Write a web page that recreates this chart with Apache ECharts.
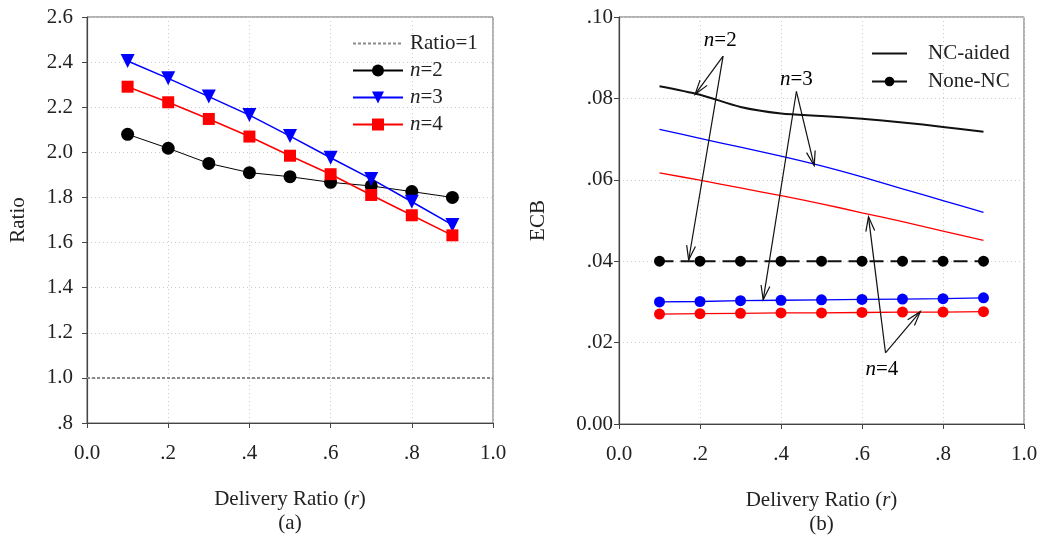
<!DOCTYPE html>
<html>
<head>
<meta charset="utf-8">
<script src="https://cdn.jsdelivr.net/npm/echarts@6/dist/echarts.min.js"></script>
<style>
  html, body { margin: 0; padding: 0; background: #fff; }
  #chart { width: 1044px; height: 536px; }
</style>
</head>
<body>
<div id="chart"></div>
<script>
const xValues = [0.1, 0.2, 0.3, 0.4, 0.5, 0.6, 0.7, 0.8, 0.9]

// (a) Ratio
const ratioOneX = [0, 1]
const ratioOneY = [1, 1]
const ratioN2 = [2.08, 2.018, 1.951, 1.91, 1.892, 1.867, 1.851, 1.826, 1.80]
const ratioN3 = [2.405, 2.328, 2.247, 2.165, 2.072, 1.976, 1.882, 1.781, 1.678]
const ratioN4 = [2.291, 2.222, 2.148, 2.07, 1.985, 1.903, 1.811, 1.721, 1.632]

// (b) ECB
const ncAidedN2 = [0.083, 0.0809, 0.0779, 0.0763, 0.0757, 0.075, 0.0741, 0.073, 0.0718]
const ncAidedN3 = [0.0724, 0.0702, 0.068, 0.0658, 0.0634, 0.0607, 0.0578, 0.0549, 0.052]
const ncAidedN4 = [0.0617, 0.0599, 0.058, 0.0561, 0.0541, 0.0519, 0.0497, 0.0474, 0.0451]
const noneNcN2 = [0.04, 0.04, 0.04, 0.04, 0.04, 0.04, 0.04, 0.04, 0.04]
const noneNcN3 = [0.03, 0.0301, 0.0303, 0.0304, 0.0305, 0.0306, 0.0307, 0.0308, 0.031]
const noneNcN4 = [0.027, 0.0271, 0.0272, 0.0273, 0.0273, 0.0274, 0.0275, 0.0275, 0.0276]

// annotation arrows in (b): [fromX, fromY, toX, toY]
const arrowList = [
  [0.257, 0.0904, 0.188, 0.081],
  [0.257, 0.0904, 0.172, 0.0403],
  [0.438, 0.0817, 0.482, 0.0635],
  [0.438, 0.0817, 0.356, 0.0305],
  [0.658, 0.0175, 0.616, 0.0509],
  [0.658, 0.0175, 0.744, 0.0276],
]
const arrowLabels = ['n=2', 'n=3', 'n=4']
const arrowLabelX = [0.25, 0.438, 0.649]
const arrowLabelY = [0.0943, 0.0846, 0.0133]

const fontName = '"Liberation Serif", "DejaVu Serif", serif'
const textColor = '#222'
const fontSize = 21

function pairs(ys, xs = xValues) {
  return ys.map((y, idx) => [xs[idx], y])
}

function trimZero(v, digits) {
  const txt = v.toFixed(digits)
  return txt.startsWith('0.') ? txt.slice(1) : txt
}

function xLabel(v) {
  return v === 0 ? '0.0' : trimZero(v, 1)
}

const richText = {
  t: { fontFamily: fontName, fontSize, color: textColor, lineHeight: 24 },
  i: { fontFamily: fontName, fontSize, color: textColor, fontStyle: 'italic', lineHeight: 24 },
}

function legendName(name) {
  if (name.startsWith('n=')) return `{i|n}{t|${name.slice(1)}}`
  return `{t|${name}}`
}

function makeXAxis(gridIndex, caption) {
  return {
    gridIndex,
    type: 'value',
    min: 0,
    max: 1,
    interval: 0.2,
    name: `{t|Delivery Ratio (}{i|r}{t|)}\n{t|${caption}}`,
    nameLocation: 'middle',
    nameGap: 64,
    nameTextStyle: { rich: richText },
    axisLine: { onZero: false, lineStyle: { color: '#444', width: 1.2 } },
    axisTick: { inside: false, length: 5, lineStyle: { color: '#444' } },
    axisLabel: {
      margin: 20,
      fontFamily: fontName,
      fontSize,
      color: textColor,
      formatter: xLabel,
    },
    splitLine: { show: true, lineStyle: { color: '#ccc', type: [1, 3] } },
  }
}

function makeYAxis(gridIndex, opts) {
  return {
    gridIndex,
    type: 'value',
    min: opts.min,
    max: opts.max,
    interval: opts.interval,
    name: opts.name,
    nameLocation: 'middle',
    nameGap: opts.nameGap,
    nameTextStyle: { fontFamily: fontName, fontSize, color: textColor },
    axisLine: { show: true, onZero: false, lineStyle: { color: '#444', width: 1.2 } },
    axisTick: { show: true, inside: false, length: 5, lineStyle: { color: '#444' } },
    axisLabel: {
      margin: opts.labelMargin,
      fontFamily: fontName,
      fontSize,
      color: textColor,
      formatter: opts.formatter,
    },
    splitLine: { show: true, lineStyle: { color: '#ccc', type: [1, 3] } },
  }
}

function markedLine(name, data, color, symbol, size, width, axis, rotate = 0) {
  return {
    name,
    type: 'line',
    xAxisIndex: axis,
    yAxisIndex: axis,
    data,
    symbol,
    symbolSize: size,
    symbolRotate: rotate,
    lineStyle: { color, width },
    itemStyle: { color },
    z: 3,
  }
}

function renderArrow(params, api) {
  const p1 = api.coord([api.value(0), api.value(1)])
  const p2 = api.coord([api.value(2), api.value(3)])
  const ang = Math.atan2(p2[1] - p1[1], p2[0] - p1[0])
  const headLen = 15
  const spread = 0.3
  const h1 = [p2[0] - headLen * Math.cos(ang - spread), p2[1] - headLen * Math.sin(ang - spread)]
  const h2 = [p2[0] - headLen * Math.cos(ang + spread), p2[1] - headLen * Math.sin(ang + spread)]
  const stroke = { stroke: '#111', lineWidth: 1.2, fill: null }
  return {
    type: 'group',
    children: [
      { type: 'line', shape: { x1: p1[0], y1: p1[1], x2: p2[0], y2: p2[1] }, style: stroke },
      { type: 'polyline', shape: { points: [h1, p2, h2] }, style: stroke },
    ],
  }
}

function renderArrowLabel(params, api) {
  const p = api.coord([api.value(0), api.value(1)])
  const label = arrowLabels[params.dataIndex]
  return {
    type: 'text',
    x: p[0],
    y: p[1],
    style: {
      text: `{i|n}{t|${label.slice(1)}}`,
      rich: richText,
      align: 'center',
      verticalAlign: 'middle',
    },
  }
}

const hiddenSymbol = { opacity: 0 }

const chart = echarts.init(document.getElementById('chart'), null, { renderer: 'canvas' })

chart.setOption({
  animation: false,
  backgroundColor: '#fff',
  grid: [
    {
      left: 87, right: 551, top: 17, bottom: 113,
      outerBoundsMode: 'none', show: true, borderColor: '#666', borderWidth: 1,
    },
    {
      left: 619, right: 20, top: 17, bottom: 112,
      outerBoundsMode: 'none', show: true, borderColor: '#666', borderWidth: 1,
    },
  ],
  legend: [
    {
      orient: 'vertical',
      left: 347,
      top: 28,
      itemWidth: 50,
      itemHeight: 15,
      itemGap: 6,
      data: [
        { name: 'Ratio=1', itemStyle: hiddenSymbol },
        'n=2',
        'n=3',
        'n=4',
      ],
      formatter: legendName,
      textStyle: { rich: richText, padding: [0, 0, 0, 2] },
      selectedMode: false,
    },
    {
      orient: 'vertical',
      left: 866,
      top: 38,
      itemWidth: 35,
      itemHeight: 12,
      itemGap: 7,
      data: [{ name: 'NC-aided', itemStyle: hiddenSymbol }, 'None-NC'],
      formatter: legendName,
      textStyle: { rich: richText, padding: [0, 0, 0, 16] },
      lineStyle: { type: 'solid' },
      selectedMode: false,
    },
  ],
  xAxis: [makeXAxis(0, '(a)'), makeXAxis(1, '(b)')],
  yAxis: [
    makeYAxis(0, {
      min: 0.8, max: 2.6, interval: 0.2, name: 'Ratio', nameGap: 58, labelMargin: 14,
      formatter: (v) => trimZero(v, 1),
    }),
    makeYAxis(1, {
      min: 0, max: 0.1, interval: 0.02, name: 'ECB', nameGap: 70, labelMargin: 6,
      formatter: (v) => (v === 0 ? '0.00' : trimZero(v, 2)),
    }),
  ],
  series: [
    {
      name: 'Ratio=1',
      type: 'line',
      data: pairs(ratioOneY, ratioOneX),
      symbol: 'none',
      lineStyle: { color: '#8a8a8a', width: 2, type: [3, 2] },
      itemStyle: { color: '#8a8a8a' },
    },
    markedLine('n=2', pairs(ratioN2), '#000', 'circle', 13, 1, 0),
    markedLine('n=3', pairs(ratioN3), '#0000ff', 'triangle', 14, 1.5, 0, 180),
    markedLine('n=4', pairs(ratioN4), '#ff0000', 'rect', 12, 1.5, 0),
    {
      name: 'NC-aided',
      type: 'line',
      xAxisIndex: 1,
      yAxisIndex: 1,
      data: pairs(ncAidedN2),
      symbol: 'none',
      smooth: 0.3,
      lineStyle: { color: '#111', width: 2 },
      itemStyle: { color: '#111' },
    },
    {
      name: 'NC-aided n=3',
      type: 'line',
      xAxisIndex: 1,
      yAxisIndex: 1,
      data: pairs(ncAidedN3),
      symbol: 'none',
      smooth: 0.3,
      lineStyle: { color: '#0000ff', width: 1.3 },
    },
    {
      name: 'NC-aided n=4',
      type: 'line',
      xAxisIndex: 1,
      yAxisIndex: 1,
      data: pairs(ncAidedN4),
      symbol: 'none',
      smooth: 0.3,
      lineStyle: { color: '#ff0000', width: 1.3 },
    },
    {
      name: 'None-NC',
      type: 'line',
      xAxisIndex: 1,
      yAxisIndex: 1,
      data: pairs(noneNcN2),
      symbol: 'circle',
      symbolSize: 11,
      lineStyle: { color: '#111', width: 2, type: [14, 7] },
      itemStyle: { color: '#000' },
      z: 3,
    },
    markedLine('None-NC n=3', pairs(noneNcN3), '#0000ff', 'circle', 11, 1.3, 1),
    markedLine('None-NC n=4', pairs(noneNcN4), '#ff0000', 'circle', 11, 1.3, 1),
    {
      name: 'arrows',
      type: 'custom',
      xAxisIndex: 1,
      yAxisIndex: 1,
      data: arrowList,
      renderItem: renderArrow,
      silent: true,
      z: 5,
    },
    {
      name: 'arrow labels',
      type: 'custom',
      xAxisIndex: 1,
      yAxisIndex: 1,
      data: arrowLabelX.map((x, idx) => [x, arrowLabelY[idx]]),
      renderItem: renderArrowLabel,
      silent: true,
      z: 5,
    },
  ],
})
</script>
</body>
</html>
